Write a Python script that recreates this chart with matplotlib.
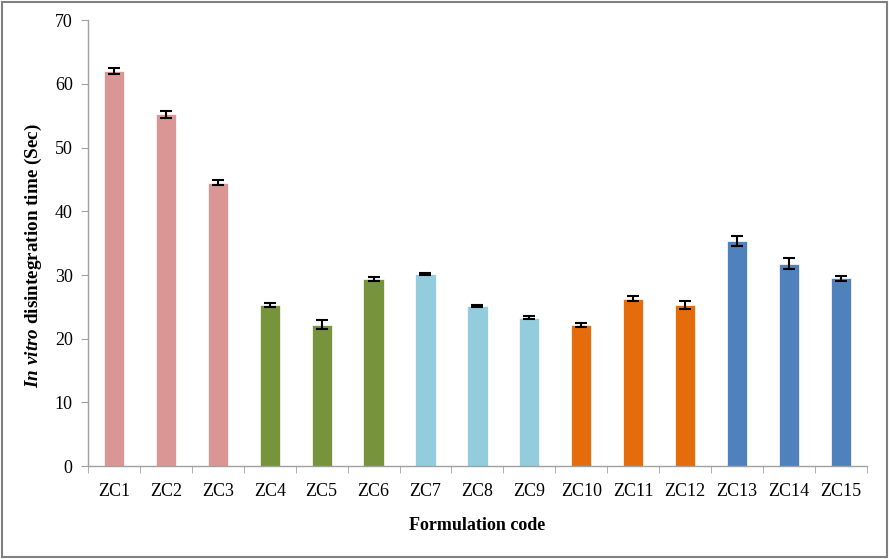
import matplotlib
matplotlib.use("Agg")
import matplotlib.pyplot as plt
from matplotlib.patches import Rectangle
import numpy as np

categories = ["ZC1", "ZC2", "ZC3", "ZC4", "ZC5", "ZC6", "ZC7", "ZC8", "ZC9",
              "ZC10", "ZC11", "ZC12", "ZC13", "ZC14", "ZC15"]
values = [62.0, 55.2, 44.5, 25.3, 22.2, 29.4, 30.2, 25.2, 23.3,
          22.1, 26.3, 25.3, 35.3, 31.8, 29.5]
errors = [0.5, 0.6, 0.4, 0.3, 0.7, 0.3, 0.15, 0.15, 0.2,
          0.3, 0.4, 0.7, 0.8, 0.85, 0.4]
colors = ["#D99694"] * 3 + ["#77933C"] * 3 + ["#93CDDD"] * 3 + ["#E46C0A"] * 3 + ["#4F81BD"] * 3
yticks = [0, 10, 20, 30, 40, 50, 60, 70]

plt.rcParams['font.family'] = ['Liberation Serif', 'DejaVu Serif']
plt.rcParams['mathtext.fontset'] = 'custom'
plt.rcParams['mathtext.it'] = 'Liberation Serif:bold:italic'
plt.rcParams['mathtext.rm'] = 'Liberation Serif:bold'
plt.rcParams['mathtext.bf'] = 'Liberation Serif:bold'

fig = plt.figure(figsize=(8.89, 5.59), dpi=100)
ax = fig.add_axes([0.099, 0.166, 0.876, 0.798])

x = np.arange(len(categories))
ax.bar(x, values, width=0.39, color=colors, edgecolor='white', linewidth=0.5,
       yerr=errors, error_kw=dict(ecolor='black', elinewidth=1.5, capsize=4, capthick=1.5))

ax.set_xlim(-0.5, len(categories) - 0.5)
ax.set_ylim(0, 70)
ax.set_yticks(yticks)
ax.set_yticklabels([str(t) for t in yticks], fontsize=13)
ax.set_xticks(x)
ax.set_xticklabels(categories, fontsize=13)
ax.tick_params(axis='x', length=0, pad=12)
ax.set_xticks(np.arange(-0.5, len(categories)), minor=True)
ax.tick_params(axis='x', which='minor', length=5, color='#A0A0A0')
ax.tick_params(axis='y', length=5, color='#A0A0A0', pad=6)

for s in ['top', 'right']:
    ax.spines[s].set_visible(False)
for s in ['left', 'bottom']:
    ax.spines[s].set_color('#A0A0A0')
    ax.spines[s].set_linewidth(1)

ax.set_xlabel('Formulation code', fontsize=13, fontweight='bold', labelpad=12)
ax.set_ylabel(r'$\it{In\ vitro}$ disintegration time (Sec)', fontsize=13.8,
              fontweight='bold')
ax.yaxis.set_label_coords(-0.056, 0.473)

fig.patches.append(Rectangle((0.002, 0.003), 0.996, 0.994, transform=fig.transFigure,
                             fill=False, edgecolor='#808080', linewidth=1.5))

fig.savefig('out.png', dpi=100)
